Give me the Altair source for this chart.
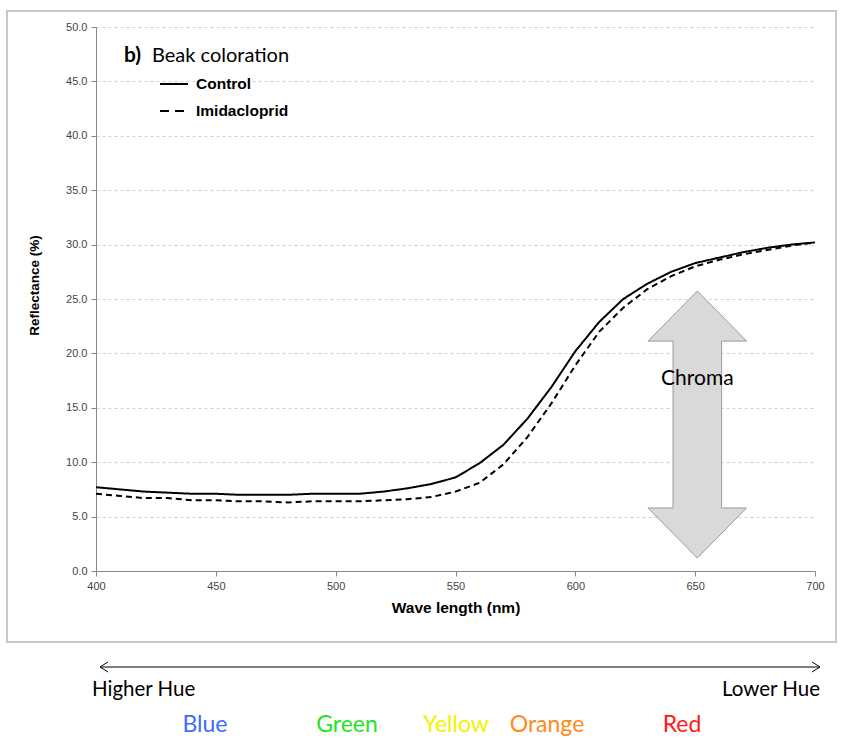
import altair as alt
import pandas as pd

# ---- data ----
wavelength = list(range(400, 701, 10))
control = [7.7, 7.5, 7.3, 7.2, 7.1, 7.1, 7.0, 7.0, 7.0, 7.1, 7.1,
           7.1, 7.3, 7.6, 8.0, 8.6, 9.9, 11.6, 14.0, 16.9, 20.2,
           22.9, 25.0, 26.4, 27.5, 28.3, 28.8, 29.3, 29.7, 30.0, 30.2]
imidacloprid = [7.1, 6.9, 6.7, 6.7, 6.5, 6.5, 6.4, 6.4, 6.3, 6.4, 6.4,
                6.4, 6.5, 6.6, 6.8, 7.3, 8.1, 9.8, 12.3, 15.4, 18.9,
                22.0, 24.2, 25.9, 27.1, 28.0, 28.6, 29.1, 29.5, 29.9, 30.2]
series_names = ["Control", "Imidacloprid"]
y_ticks = [0, 5, 10, 15, 20, 25, 30, 35, 40, 45, 50]
x_ticks = [400, 450, 500, 550, 600, 650, 700]

hue_words = ["Blue", "Green", "Yellow", "Orange", "Red"]
hue_colors = ["#3d6cff", "#1fe51f", "#f2f200", "#ff8a1a", "#ff1a1a"]

# chroma arrow centre (data units)
chroma_x = [650.9]
chroma_y = [13.46]

rows = []
for w, c, i in zip(wavelength, control, imidacloprid):
    rows.append({"wl": w, "refl": c, "series": "Control"})
    rows.append({"wl": w, "refl": i, "series": "Imidacloprid"})
df = pd.DataFrame(rows)

W, H = 719, 544
one = pd.DataFrame({"a": [0]})

xscale = alt.Scale(domain=[400, 700], nice=False, zero=False)
yscale = alt.Scale(domain=[0, 50], nice=False)

lines = alt.Chart(df).mark_line(strokeWidth=2, color="black").encode(
    x=alt.X("wl:Q", scale=xscale,
            axis=alt.Axis(values=x_ticks, title="Wave length (nm)", grid=False,
                          domainColor="#888", tickColor="#888", tickSize=5,
                          labelFont="Liberation Sans", labelFontSize=11, labelColor="#444",
                          labelPadding=4, labelFlush=False, labelOverlap=False,
                          titleFont="Liberation Sans", titleFontSize=15.5, titleFontWeight="bold",
                          titleColor="black", titleX=W / 2, titleY=36, titleBaseline="middle")),
    y=alt.Y("refl:Q", scale=yscale,
            axis=alt.Axis(values=y_ticks, format=".1f", title="Reflectance (%)",
                          grid=True, gridColor="#d0d0d0", gridDash=[3, 3], gridWidth=1,
                          domainColor="#888", tickColor="#888", tickSize=5,
                          labelFont="Liberation Sans", labelFontSize=11, labelColor="#444",
                          labelPadding=4, labelFlush=False, labelOverlap=False,
                          titleFont="Liberation Sans", titleFontSize=13.5, titleFontWeight="bold",
                          titleColor="black", titleX=-62, titleY=258, titleAngle=270,
                          titleAlign="center", titleBaseline="middle")),
    strokeDash=alt.StrokeDash("series:N",
                              scale=alt.Scale(domain=series_names, range=[[1, 0], [6, 4]]),
                              legend=None),
    detail="series:N",
)

arrow_path = ("M0,-1 L0.369,-0.625 L0.182,-0.625 L0.182,0.625 L0.369,0.625 "
              "L0,1 L-0.369,0.625 L-0.182,0.625 L-0.182,-0.625 L-0.369,-0.625 Z")
chroma_df = pd.DataFrame({"x": chroma_x, "y": chroma_y, "t": ["Chroma"]})
chroma_arrow = alt.Chart(chroma_df).mark_point(
    shape=arrow_path, size=267 * 267, filled=True, fill="#d9d9d9",
    stroke="#9a9a9a", strokeWidth=1, opacity=1
).encode(x=alt.X("x:Q", scale=xscale), y=alt.Y("y:Q", scale=yscale))
chroma_text = alt.Chart(pd.DataFrame({"x": chroma_x, "y": [17.65], "t": ["Chroma"]})).mark_text(
    font="Lato", fontSize=21, color="black", baseline="middle", align="center"
).encode(x=alt.X("x:Q", scale=xscale), y=alt.Y("y:Q", scale=yscale), text="t:N")


def txt(s, x, y, **kw):
    return alt.Chart(one).mark_text(**kw).encode(
        x=alt.value(x), y=alt.value(y), text=alt.value(s))


def seg(x1, y1, x2, y2, **kw):
    return alt.Chart(one).mark_rule(**kw).encode(
        x=alt.value(x1), y=alt.value(y1), x2=alt.value(x2), y2=alt.value(y2))


title_b = txt("b)", 28, 29, font="Lato", fontSize=21, fontWeight="bold", align="left",
              baseline="middle", color="black")
title_rest = txt("Beak coloration", 56, 29, font="Lato", fontSize=20, align="left",
                 baseline="middle", color="black")
leg1_line = seg(64, 57, 92, 57, color="black", strokeWidth=2)
leg2_line = seg(64, 84, 92, 84, color="black", strokeWidth=2, strokeDash=[9, 6])
leg1_txt = txt(series_names[0], 100, 57, font="Liberation Sans", fontSize=15.5,
               fontWeight="bold", align="left", baseline="middle", color="black")
leg2_txt = txt(series_names[1], 100, 84, font="Liberation Sans", fontSize=15.5,
               fontWeight="bold", align="left", baseline="middle", color="black")

border = alt.Chart(one).mark_rect(fill=None, stroke="#c8c8c8", strokeWidth=2).encode(
    x=alt.value(-89), x2=alt.value(740), y=alt.value(-16), y2=alt.value(615))

hue_line = seg(4, 640, 724, 640, color="black", strokeWidth=1)
hue_heads = [
    seg(4, 640, 12, 635, color="black", strokeWidth=1),
    seg(4, 640, 12, 645, color="black", strokeWidth=1),
    seg(724, 640, 716, 635, color="black", strokeWidth=1),
    seg(724, 640, 716, 645, color="black", strokeWidth=1),
]
higher = txt("Higher Hue", -4, 663, font="Lato", fontSize=20.5, align="left",
             baseline="middle", color="black")
lower = txt("Lower Hue", 724, 663, font="Lato", fontSize=20.5, align="right",
            baseline="middle", color="black")

hue_x = [109, 251, 360, 451, 586]
hue_texts = [txt(w, xx, 698, font="Lato", fontSize=23, align="center", baseline="middle", color=c)
             for w, c, xx in zip(hue_words, hue_colors, hue_x)]

chart = alt.layer(
    border, lines, chroma_arrow, chroma_text, title_b, title_rest,
    leg1_line, leg2_line, leg1_txt, leg2_txt,
    hue_line, *hue_heads, higher, lower, *hue_texts
).properties(
    width=W, height=H,
    padding={"left": 96, "top": 27, "right": 27, "bottom": 167},
    autosize="none",
).configure_view(stroke=None)

chart.save("out.html", embed_options={"renderer": "svg", "actions": False})
